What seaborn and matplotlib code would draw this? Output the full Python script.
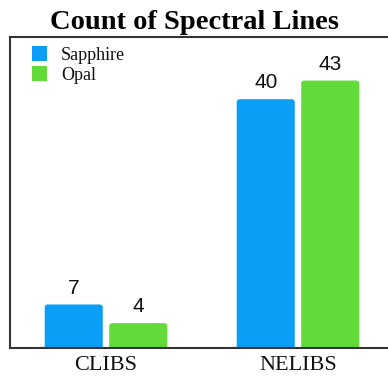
import matplotlib
matplotlib.use("Agg")
import matplotlib.pyplot as plt
from matplotlib.patches import FancyBboxPatch, Patch
import pandas as pd
import seaborn as sns

# Spectral line counts per technique and sample
techniques = ["CLIBS", "NELIBS"]
samples = ["Sapphire", "Opal"]
sapphire_counts = [7, 40]
opal_counts = [4, 43]
palette = {"Sapphire": "#0A9EF7", "Opal": "#62DA3A"}

df = pd.DataFrame({
    "technique": techniques * 2,
    "sample": [samples[0]] * len(techniques) + [samples[1]] * len(techniques),
    "count": sapphire_counts + opal_counts,
})

sns.set_theme(style="white")
plt.rcParams["font.family"] = ["Liberation Serif", "DejaVu Serif"]

fig = plt.figure(figsize=(3.88, 3.81), dpi=100)
ax = fig.add_axes([10 / 388, 33 / 381, 384 / 388, 311 / 381])

sns.barplot(data=df, x="technique", y="count", hue="sample", hue_order=samples,
            palette=palette, width=0.672, gap=0.1, saturation=1, ax=ax,
            edgecolor="none", linewidth=0, legend=False)

# Value labels above each bar
for container in ax.containers:
    ax.bar_label(container, padding=5, fontsize=15,
                 fontfamily=["Liberation Sans", "DejaVu Sans"], color="#111111")

ax.set_xlim(-0.5, 1.5)
ax.set_ylim(0, 50)

# Swap plain rectangles for bars with softly rounded top corners
x_px = 192.0
y_px = 6.22
r = 3.0 / x_px
for patch in list(ax.patches):
    x, y = patch.get_x(), patch.get_y()
    w, h = patch.get_width(), patch.get_height()
    fc = patch.get_facecolor()
    patch.remove()
    ext = 1.0
    rounded = FancyBboxPatch((x, y - ext), w, h + ext,
                             boxstyle=f"round,pad=0,rounding_size={r}",
                             mutation_aspect=x_px / y_px,
                             facecolor=fc, edgecolor="none", linewidth=0,
                             clip_on=True)
    ax.add_patch(rounded)

ax.set_xlabel("")
ax.set_ylabel("")
ax.set_yticks([])
ax.tick_params(axis="x", length=0, labelsize=16, pad=6, colors="#111111")
for s in ax.spines.values():
    s.set_visible(True)
    s.set_color("#333333")
    s.set_linewidth(1.5)

# Title centred on the figure rather than on the (wider) axes box
ax.set_title("Count of Spectral Lines", fontsize=20.5, fontweight="bold",
             color="#000000", pad=6, x=(194 - 10) / 384)

handles = [Patch(facecolor=palette[s], edgecolor="none", label=s) for s in samples]
leg = ax.legend(handles=handles, loc="upper left", bbox_to_anchor=(0.057, 0.97),
                frameon=False, fontsize=13, handlelength=0.86, handleheight=0.86,
                handletextpad=0.75, labelspacing=0.12, borderaxespad=0,
                borderpad=0)
for t in leg.get_texts():
    t.set_color("#111111")

fig.savefig("out.png", dpi=100)
